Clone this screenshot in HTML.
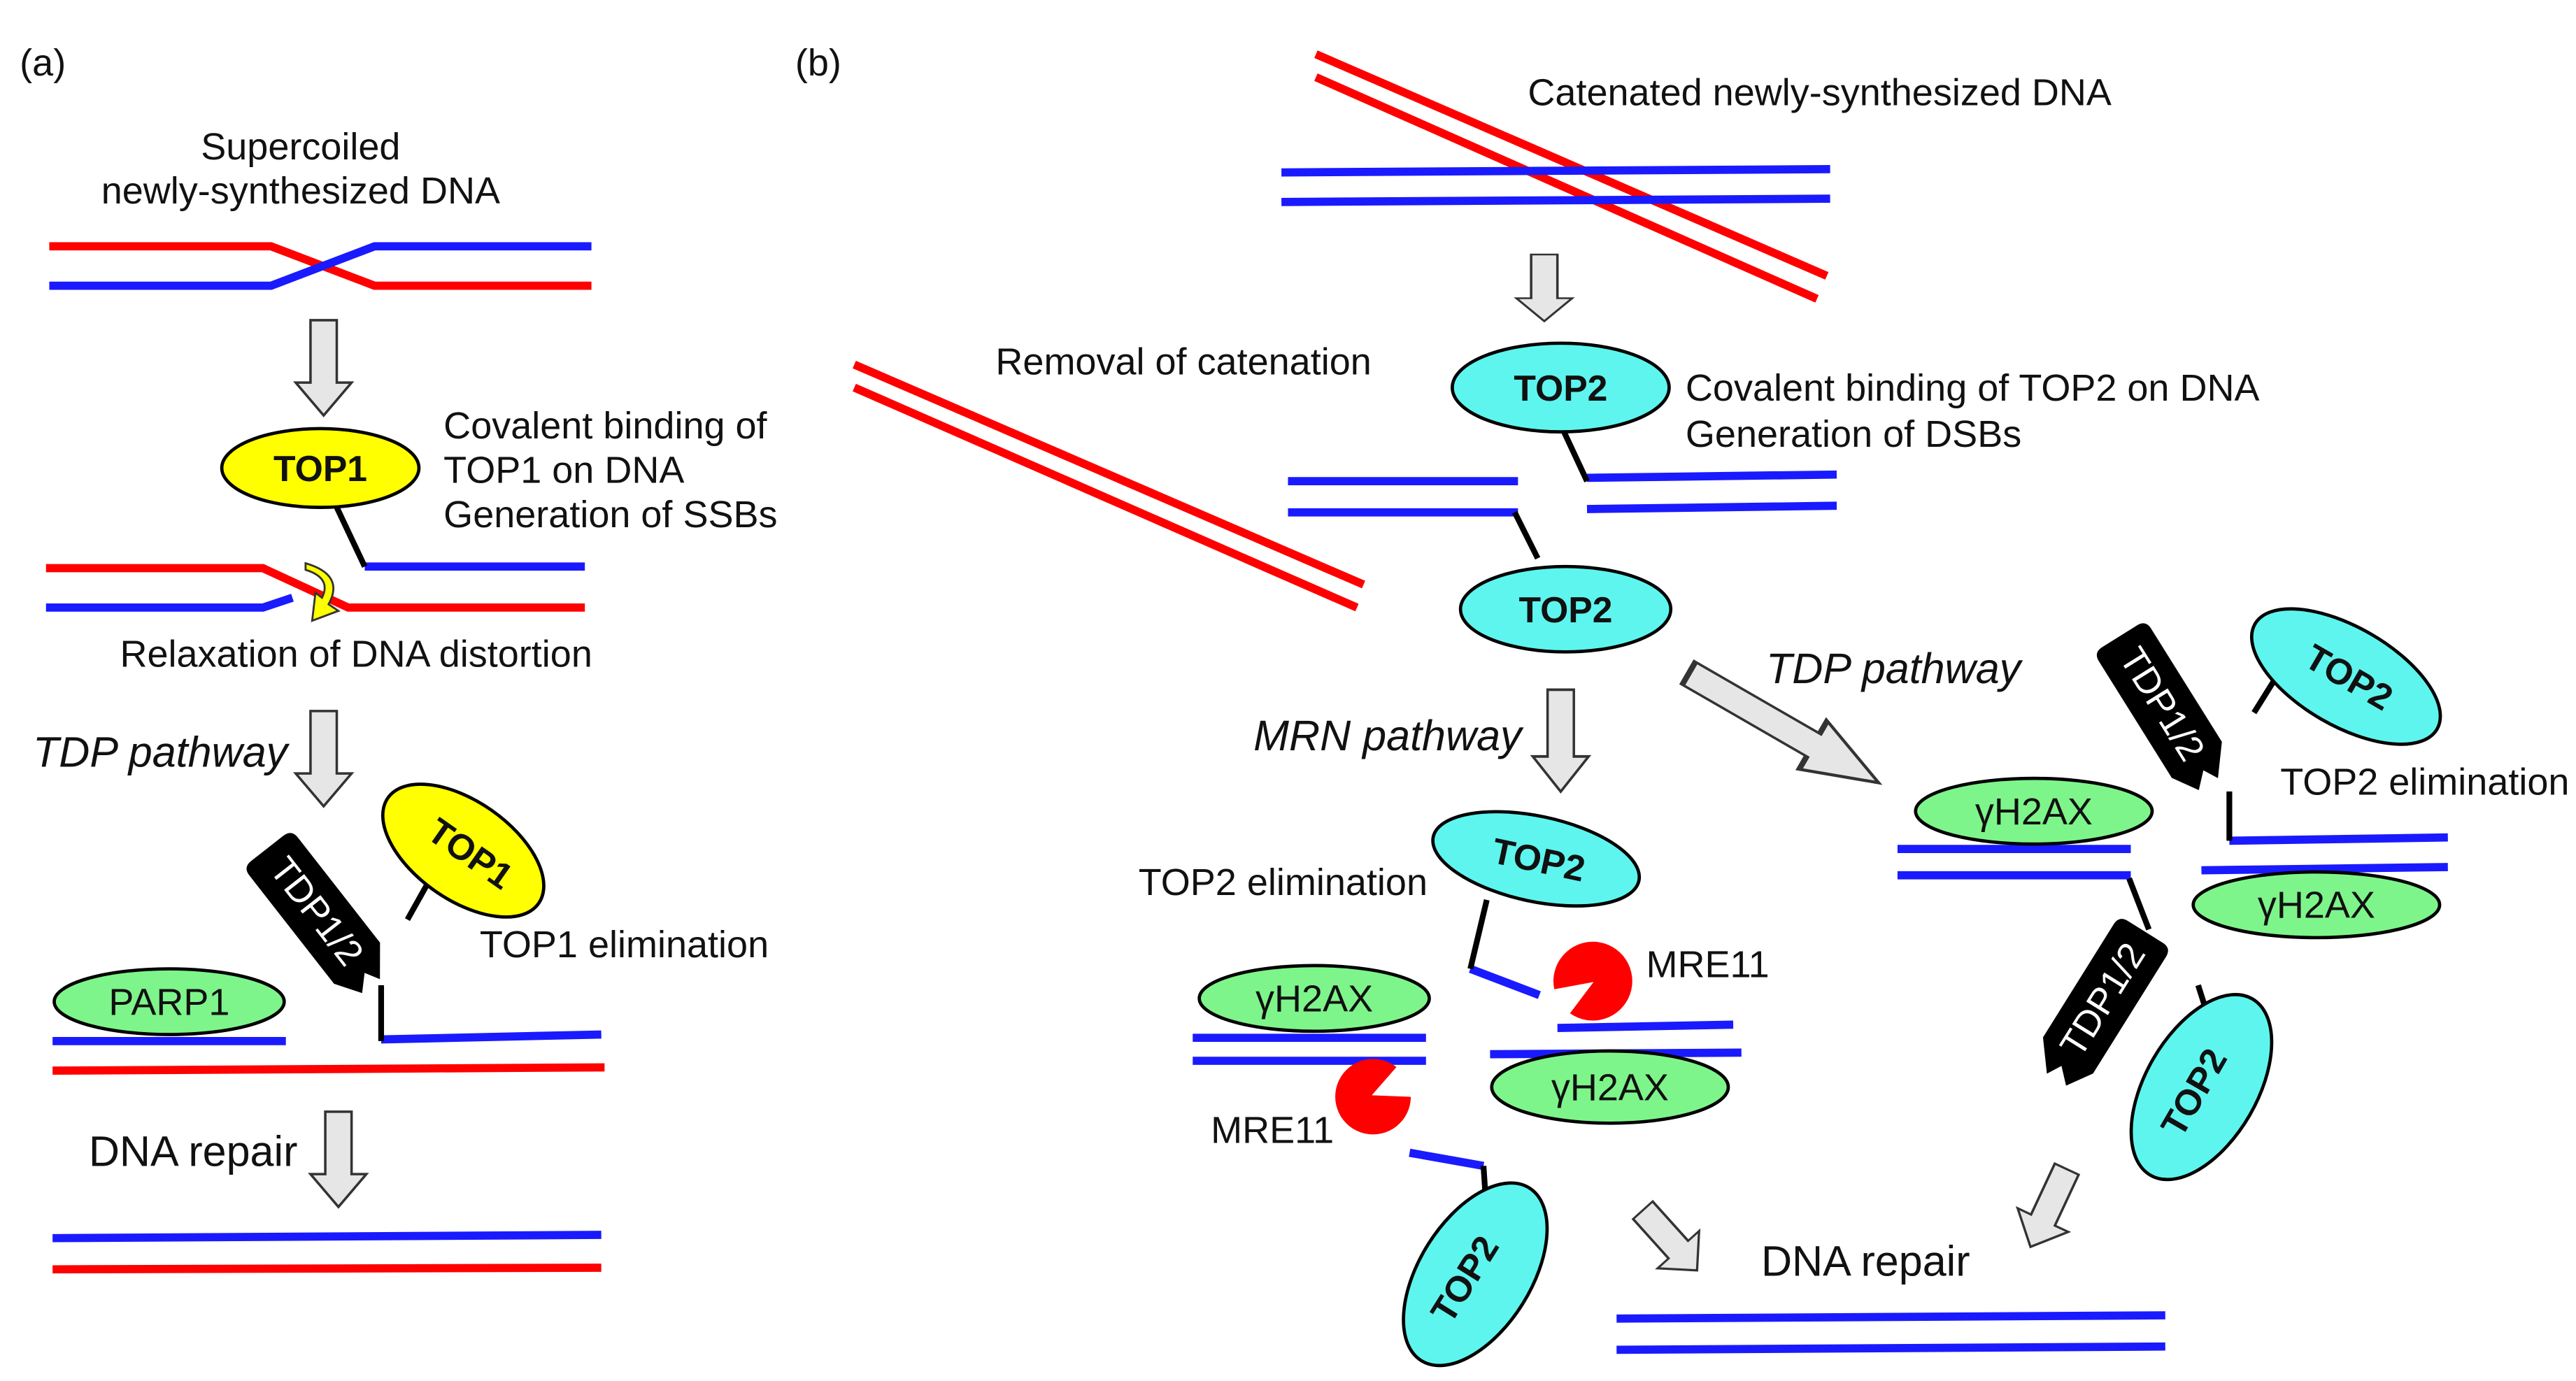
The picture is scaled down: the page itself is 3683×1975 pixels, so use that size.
<!DOCTYPE html>
<html><head><meta charset="utf-8">
<style>
html,body{margin:0;padding:0;background:#fff;}
svg{display:block;}
text{font-family:"Liberation Sans",Arial,sans-serif;fill:#111;}
.t{font-size:23px;}
.it{font-size:26px;font-style:italic;}
.b{font-weight:bold;font-size:22px;}
.w{fill:#fff;font-size:20px;}
</style></head><body>
<svg width="3683" height="1975" viewBox="0 0 1568 841" preserveAspectRatio="none" xmlns="http://www.w3.org/2000/svg">
<defs>
  <path id="arr" d="M-8,0 L8,0 L8,38 L17,38 L0,58 L-17,38 L-8,38 Z" fill="#e6e6e6" stroke="#333" stroke-width="1.5"/>
  <path id="tdp" d="M-42,-10 Q-42,-15 -37,-15 L28,-15 L42,-4 L35,0 L42,7 L30,15 L-37,15 Q-42,15 -42,10 Z" fill="#000"/>
</defs>
<g fill="none" stroke-width="5">
<polyline points="30,150 165,150 228,174 360,174" stroke="#ff0000"/>
<polyline points="30,174 165,174 228,150 360,150" stroke="#1a1aff"/>
<polyline points="28,346 160,346 212,370 356,370" stroke="#ff0000"/>
<polyline points="28,370 160,370 178,364" stroke="#1a1aff"/>
<line x1="222" y1="345" x2="356" y2="345" stroke="#1a1aff"/>
<line x1="32" y1="634" x2="174" y2="634" stroke="#1a1aff"/>
<line x1="232" y1="633" x2="366" y2="630" stroke="#1a1aff"/>
<line x1="32" y1="652" x2="368" y2="650" stroke="#ff0000"/>
<line x1="32" y1="754" x2="366" y2="752" stroke="#1a1aff"/>
<line x1="32" y1="773" x2="366" y2="772" stroke="#ff0000"/>
<line x1="801" y1="33" x2="1112" y2="168" stroke="#ff0000"/>
<line x1="801" y1="47" x2="1106" y2="182" stroke="#ff0000"/>
<line x1="780" y1="105" x2="1114" y2="103" stroke="#1a1aff"/>
<line x1="780" y1="123" x2="1114" y2="121" stroke="#1a1aff"/>
<line x1="520" y1="222" x2="830" y2="356" stroke="#ff0000"/>
<line x1="520" y1="236" x2="826" y2="370" stroke="#ff0000"/>
<line x1="966" y1="291" x2="1118" y2="289" stroke="#1a1aff"/>
<line x1="966" y1="310" x2="1118" y2="308" stroke="#1a1aff"/>
<line x1="784" y1="293" x2="924" y2="293" stroke="#1a1aff"/>
<line x1="784" y1="312" x2="924" y2="312" stroke="#1a1aff"/>
<line x1="895" y1="590" x2="937" y2="606" stroke="#1a1aff"/>
<line x1="726" y1="632" x2="868" y2="632" stroke="#1a1aff"/>
<line x1="726" y1="646" x2="868" y2="646" stroke="#1a1aff"/>
<line x1="948" y1="626" x2="1055" y2="624" stroke="#1a1aff"/>
<line x1="907" y1="642" x2="1060" y2="641" stroke="#1a1aff"/>
<line x1="858" y1="702" x2="903" y2="710" stroke="#1a1aff"/>
<line x1="984" y1="803" x2="1318" y2="801" stroke="#1a1aff"/>
<line x1="984" y1="822" x2="1318" y2="820" stroke="#1a1aff"/>
<line x1="1357" y1="512" x2="1490" y2="510" stroke="#1a1aff"/>
<line x1="1340" y1="530" x2="1490" y2="528" stroke="#1a1aff"/>
<line x1="1155" y1="517" x2="1297" y2="517" stroke="#1a1aff"/>
<line x1="1155" y1="533" x2="1297" y2="533" stroke="#1a1aff"/>
</g>
<g stroke="#000" stroke-width="3.5" fill="none">
<line x1="205" y1="309" x2="222" y2="345"/>
<line x1="262" y1="535" x2="248" y2="560"/>
<line x1="232" y1="600" x2="232" y2="634"/>
<line x1="952" y1="263" x2="966" y2="293"/>
<line x1="922" y1="312" x2="936" y2="340"/>
<line x1="905" y1="548" x2="895" y2="590"/>
<line x1="903" y1="710" x2="905" y2="740"/>
<line x1="1387" y1="410" x2="1372" y2="434"/>
<line x1="1357" y1="482" x2="1357" y2="512"/>
<line x1="1296" y1="535" x2="1308" y2="566"/>
<line x1="1338" y1="600" x2="1345" y2="622"/>
</g>
<use href="#arr" transform="translate(197,195)"/>
<use href="#arr" transform="translate(197,433)"/>
<use href="#arr" transform="translate(206,677)"/>
<use href="#arr" transform="translate(940,155) scale(1,0.7)"/>
<use href="#arr" transform="translate(950,420) scale(1,1.07)"/>
<use href="#arr" transform="translate(1028,410) rotate(-60) scale(1,2.3)"/>
<use href="#arr" transform="translate(1000,737) rotate(-42) scale(1,0.85)"/>
<use href="#arr" transform="translate(1258,712) rotate(25) scale(1,0.9)"/>
<path d="M186,343 Q210,350 200,368 L206,372 L190,378 L192,361 L196,364 Q202,352 186,347 Z" fill="#ffff00" stroke="#333" stroke-width="1.2"/>
<g stroke="#000" stroke-width="2">
<ellipse cx="195" cy="285" rx="60" ry="24" fill="#ffff00"/>
<ellipse cx="282" cy="518" rx="56" ry="30" fill="#ffff00" transform="rotate(35 282 518)"/>
<ellipse cx="103" cy="610" rx="70" ry="20" fill="#7ef58a"/>
<ellipse cx="950" cy="236" rx="66" ry="27" fill="#5ef5ef"/>
<ellipse cx="953" cy="371" rx="64" ry="26" fill="#5ef5ef"/>
<ellipse cx="935" cy="523" rx="64" ry="26" fill="#5ef5ef" transform="rotate(12 935 523)"/>
<ellipse cx="800" cy="608" rx="70" ry="20" fill="#7ef58a"/>
<ellipse cx="980" cy="662" rx="72" ry="22" fill="#7ef58a"/>
<ellipse cx="898" cy="776" rx="62" ry="34" fill="#5ef5ef" transform="rotate(-58 898 776)"/>
<ellipse cx="1428" cy="412" rx="64" ry="30" fill="#5ef5ef" transform="rotate(30 1428 412)"/>
<ellipse cx="1410" cy="551" rx="75" ry="20" fill="#7ef58a"/>
<ellipse cx="1238" cy="494" rx="72" ry="20" fill="#7ef58a"/>
<ellipse cx="1340" cy="662" rx="62" ry="34" fill="#5ef5ef" transform="rotate(-60 1340 662)"/>
</g>
<path d="M970,598 L990,585 A24,24 0 1,0 994,602 Z" fill="#ff0000" transform="rotate(160 970 598)"/>
<path d="M835,667 L855,656 A23,23 0 1,0 857,676 Z" fill="#ff0000" transform="rotate(-20 835 667)"/>
<g transform="translate(195,558) rotate(52) scale(1.25)"><use href="#tdp"/><text x="-3" y="6" text-anchor="middle" class="w" style="font-size:18px">TDP1/2</text></g>
<g transform="translate(1318,432) rotate(58) scale(1.25)"><use href="#tdp"/><text x="-3" y="6" text-anchor="middle" class="w" style="font-size:18px">TDP1/2</text></g>
<g transform="translate(1278,612) rotate(-58) scale(1.25)"><use href="#tdp" transform="scale(-1,1)"/><text x="3" y="6" text-anchor="middle" class="w" style="font-size:18px">TDP1/2</text></g>
<text x="12" y="46" class="t">(a)</text>
<text x="484" y="46" class="t">(b)</text>
<text x="183" y="97" class="t" text-anchor="middle">Supercoiled</text>
<text x="183" y="124" class="t" text-anchor="middle">newly-synthesized DNA</text>
<text x="195" y="293" class="b" text-anchor="middle">TOP1</text>
<text x="270" y="267" class="t">Covalent binding of</text>
<text x="270" y="294" class="t">TOP1 on DNA</text>
<text x="270" y="321" class="t">Generation of SSBs</text>
<text x="73" y="406" class="t">Relaxation of DNA distortion</text>
<text x="20" y="467" class="it">TDP pathway</text>
<text class="b" text-anchor="middle" transform="translate(282,526) rotate(35)">TOP1</text>
<text x="292" y="583" class="t">TOP1 elimination</text>
<text x="103" y="618" class="t" text-anchor="middle">PARP1</text>
<text x="54" y="710" class="it" style="font-style:normal">DNA repair</text>
<text x="930" y="64" class="t">Catenated newly-synthesized DNA</text>
<text x="606" y="228" class="t">Removal of catenation</text>
<text x="950" y="244" class="b" text-anchor="middle">TOP2</text>
<text x="1026" y="244" class="t">Covalent binding of TOP2 on DNA</text>
<text x="1026" y="272" class="t">Generation of DSBs</text>
<text x="953" y="379" class="b" text-anchor="middle">TOP2</text>
<text x="763" y="457" class="it">MRN pathway</text>
<text x="1075" y="416" class="it">TDP pathway</text>
<text class="b" text-anchor="middle" transform="translate(935,531) rotate(12)">TOP2</text>
<text x="693" y="545" class="t">TOP2 elimination</text>
<text x="1002" y="595" class="t">MRE11</text>
<text x="800" y="616" class="t" text-anchor="middle">γH2AX</text>
<text x="980" y="670" class="t" text-anchor="middle">γH2AX</text>
<text x="737" y="696" class="t">MRE11</text>
<text class="b" text-anchor="middle" transform="translate(898,783) rotate(-58)">TOP2</text>
<text x="1072" y="777" class="it" style="font-style:normal">DNA repair</text>
<text class="b" text-anchor="middle" transform="translate(1426,419) rotate(30)">TOP2</text>
<text x="1388" y="484" class="t">TOP2 elimination</text>
<text x="1238" y="502" class="t" text-anchor="middle">γH2AX</text>
<text x="1410" y="559" class="t" text-anchor="middle">γH2AX</text>
<text class="b" text-anchor="middle" transform="translate(1342,669) rotate(-60)">TOP2</text>
</svg>
</body></html>
